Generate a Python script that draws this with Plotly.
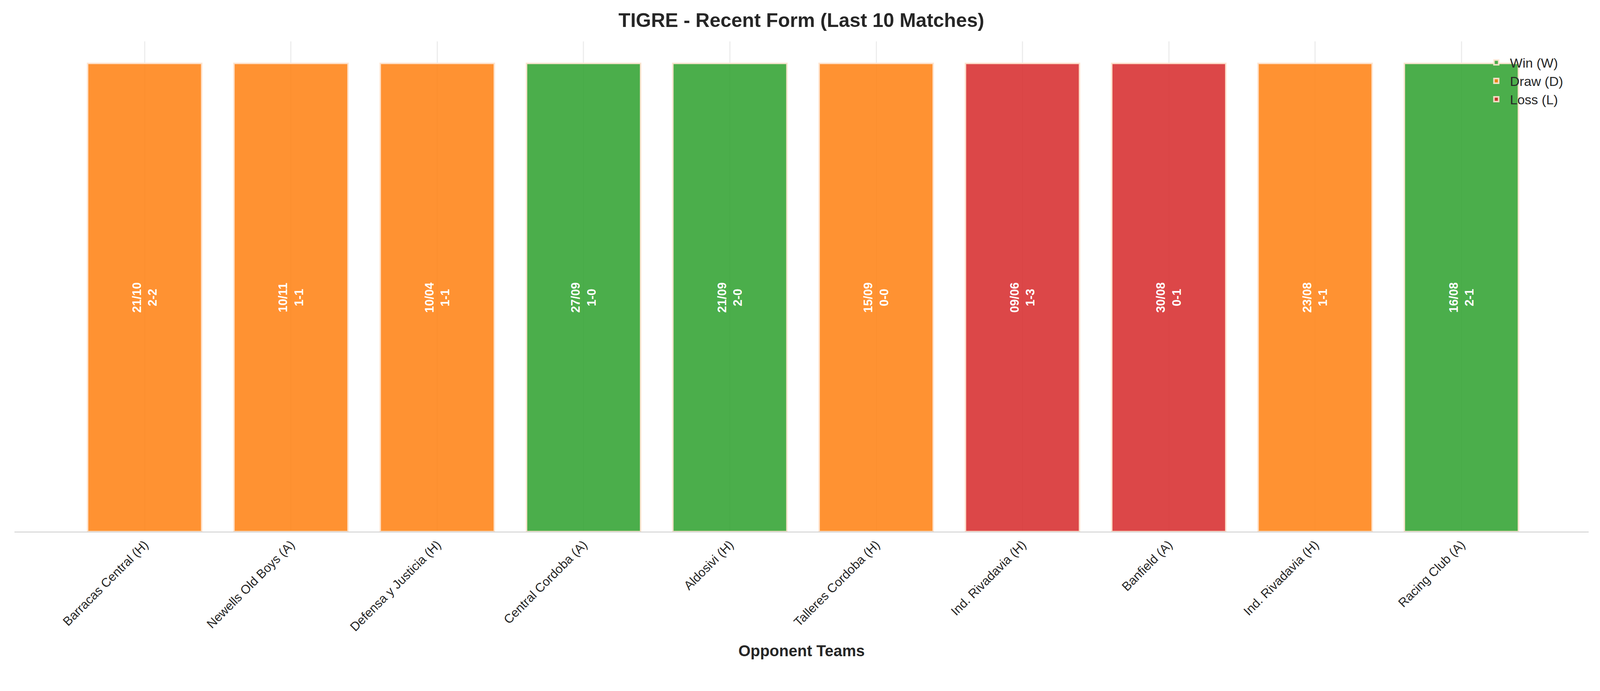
import plotly.graph_objects as go

opponents = ['Barracas Central (H)', 'Newells Old Boys (A)', 'Defensa y Justicia (H)',
             'Central Cordoba (A)', 'Aldosivi (H)', 'Talleres Cordoba (H)',
             'Ind. Rivadavia (H)', 'Banfield (A)', 'Ind. Rivadavia (H)', 'Racing Club (A)']
dates = ['21/10', '10/11', '10/04', '27/09', '21/09', '15/09', '09/06', '30/08', '23/08', '16/08']
scores = ['2-2', '1-1', '1-1', '1-0', '2-0', '0-0', '1-3', '0-1', '1-1', '2-1']
results = ['D', 'D', 'D', 'W', 'W', 'D', 'L', 'L', 'D', 'W']

colors = {'W': 'rgba(44,160,44,0.85)', 'D': 'rgba(255,127,14,0.85)', 'L': 'rgba(214,39,40,0.85)'}
names = {'W': 'Win (W)', 'D': 'Draw (D)', 'L': 'Loss (L)'}
positions = list(range(len(opponents)))

fig = go.Figure()
for res in ['W', 'D', 'L']:
    idx = [i for i, r in enumerate(results) if r == res]
    fig.add_trace(go.Bar(
        name=names[res],
        x=[positions[i] for i in idx],
        y=[1] * len(idx),
        width=0.78,
        marker=dict(color=colors[res], line=dict(color='rgba(255,230,210,0.9)', width=4)),
        text=[f'{dates[i]}<br>{scores[i]}' for i in idx],
        textposition='inside',
        insidetextanchor='middle',
        textangle=-90,
        textfont=dict(color='white', size=31, family='Liberation Sans'),
        texttemplate='<b>%{text}</b>',
        hoverinfo='skip',
    ))

fig.update_layout(
    width=4087, height=1734,
    paper_bgcolor='white', plot_bgcolor='white',
    font=dict(family='Liberation Sans', color='#262626'),
    title=dict(text='<b>TIGRE - Recent Form (Last 10 Matches)</b>', x=0.5, xanchor='center',
               y=0.985, yanchor='top', font=dict(size=50)),
    margin=dict(l=29, r=28, t=98, b=381),
    barmode='overlay',
    showlegend=True,
    legend=dict(x=0.985, y=0.98, xanchor='right', yanchor='top', bgcolor='rgba(0,0,0,0)',
                font=dict(size=34), traceorder='normal', itemwidth=60),
    xaxis=dict(
        tickmode='array', tickvals=positions, ticktext=opponents, tickangle=-45,
        tickfont=dict(size=32), range=[-0.89, 9.87],
        showgrid=True, gridcolor='rgba(0,0,0,0.07)', gridwidth=3,
        showline=True, linecolor='#cccccc', linewidth=2, zeroline=False,
        title=dict(text='<b>Opponent Teams</b>', font=dict(size=40), standoff=30),
    ),
    yaxis=dict(range=[0, 1.047], showticklabels=False, showgrid=False, zeroline=False, showline=False),
)

fig.write_html('out.html')
